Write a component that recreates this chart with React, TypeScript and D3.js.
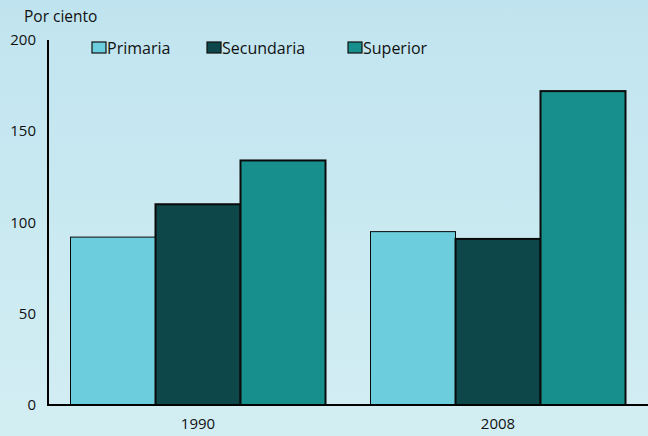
import React from "react";
import * as d3 from "d3";

const years = ["1990", "2008"];
const levels = ["Primaria", "Secundaria", "Superior"];
const primaria = [92, 95];
const secundaria = [110, 91];
const superior = [134, 172];
const yTicks = [0, 50, 100, 150, 200];

const W = 648;
const H = 436;
const colors = ["#6ccedc", "#0d4749", "#178f8c"];
const strokeW = [1, 2, 2];
const font = "'Open Sans', 'Noto Sans', sans-serif";

const App = () => {
  const series = [primaria, secundaria, superior];
  const x0 = d3.scaleBand().domain(years).range([48, 648]).paddingInner(0.15).paddingOuter(0.075);
  const x1 = d3.scaleBand().domain(levels).range([0, x0.bandwidth()]);
  const y = d3.scaleLinear().domain([0, 200]).range([405, 40]);

  const legendX = [92, 207, 348];

  return (
    <svg width={W} height={H} style={{ display: "block", position: "absolute", left: 0, top: 0 }}>
      <defs>
        <linearGradient id="bg" x1="0" y1="0" x2="0" y2="1">
          <stop offset="0" stopColor="#c0e4ef" />
          <stop offset="1" stopColor="#d3eef3" />
        </linearGradient>
      </defs>
      <rect x={0} y={0} width={W} height={H} fill="url(#bg)" />

      <text x={24} y={22} fontFamily={font} fontSize={15.5} fill="#111">Por ciento</text>

      {/* y tick labels */}
      {yTicks.map(t => (
        <text key={t} x={36} y={y(t) + 5} textAnchor="end" fontFamily={font} fontSize={15} fill="#111">
          {t}
        </text>
      ))}

      {/* bars */}
      {years.map((yr, i) => (
        <g key={yr} transform={`translate(${x0(yr)},0)`}>
          {levels.map((lv, j) => (
            <rect
              key={lv}
              x={x1(lv)}
              y={y(series[j][i])}
              width={x1.bandwidth()}
              height={y(0) - y(series[j][i])}
              fill={colors[j]}
              stroke="#0a0a0a"
              strokeWidth={strokeW[j]}
            />
          ))}
        </g>
      ))}

      {/* axes */}
      <line x1={48} x2={48} y1={40} y2={406} stroke="#000" strokeWidth={2} />
      <line x1={47} x2={W} y1={405} y2={405} stroke="#000" strokeWidth={2} />

      {years.map(yr => (
        <text key={yr} x={x0(yr)! + x0.bandwidth() / 2} y={429} textAnchor="middle" fontFamily={font} fontSize={15} fill="#111">
          {yr}
        </text>
      ))}

      {/* legend */}
      {levels.map((lv, j) => (
        <g key={lv} transform={`translate(${legendX[j]},42)`}>
          <rect x={0} y={0} width={14} height={11} fill={colors[j]} stroke="#111" strokeWidth={1.2} />
          <text x={15} y={12} fontFamily={font} fontSize={16} fill="#111">{lv}</text>
        </g>
      ))}
    </svg>
  );
};

export default App;
